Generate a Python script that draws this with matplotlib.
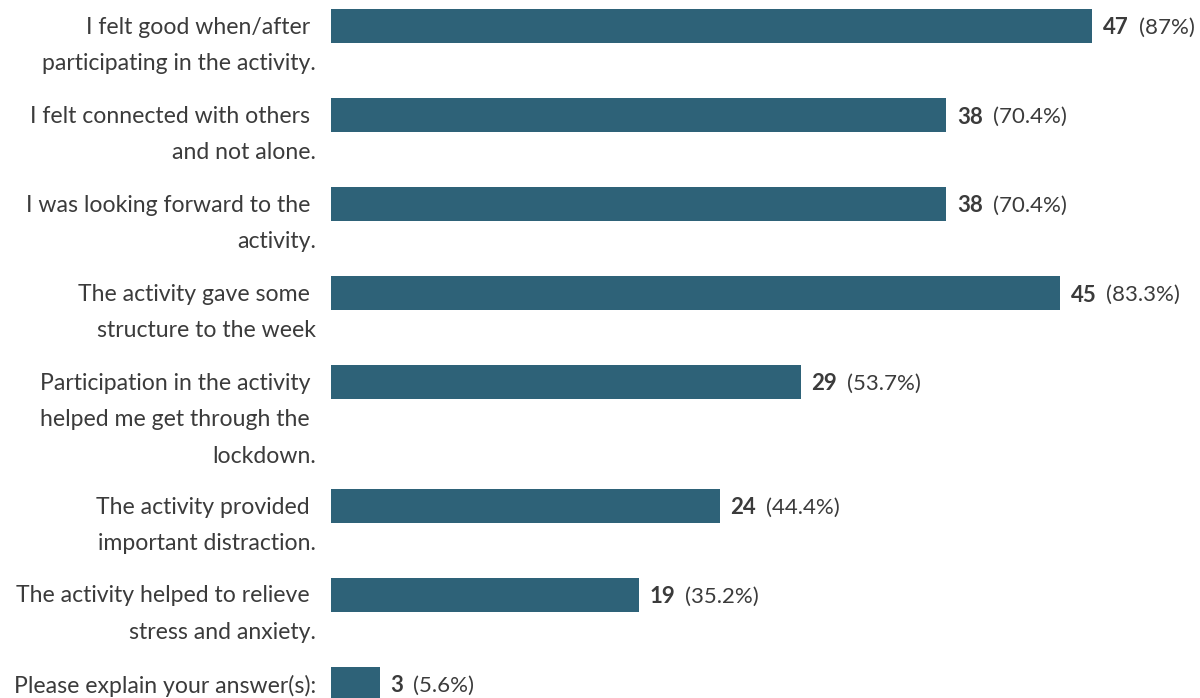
import matplotlib
matplotlib.use("Agg")
import matplotlib.pyplot as plt

# data
labels = [
    "I felt good when/after \nparticipating in the activity.",
    "I felt connected with others \nand not alone.",
    "I was looking forward to the \nactivity.",
    "The activity gave some \nstructure to the week",
    "Participation in the activity \nhelped me get through the \nlockdown.",
    "The activity provided \nimportant distraction.",
    "The activity helped to relieve \nstress and anxiety.",
    "Please explain your answer(s):",
]
counts = [47, 38, 38, 45, 29, 24, 19, 3]
percents = ["87%", "70.4%", "70.4%", "83.3%", "53.7%", "44.4%", "35.2%", "5.6%"]

BAR_COLOR = "#2e6278"
TEXT_COLOR = "#3b3b3b"
FONT = ["Lato", "DejaVu Sans"]
FS_LABEL = 16.6
FS_VALUE = 16

W, H = 1200, 698
fig = plt.figure(figsize=(W / 100, H / 100), dpi=100)
left_px = 331
ax = fig.add_axes([left_px / W, 0, 1 - left_px / W, 1])
ax.set_xlim(0, (W - left_px) / 16.19)
ax.set_ylim(H, 0)  # y in pixels, top-down
ax.axis("off")

# row layout: each row is as tall as its label (min two lines)
bar_h = 34
line_px = 34.5
gap = 20
y = 9
centers = []
for lab in labels:
    n = max(lab.count("\n") + 1, 2)
    centers.append(y + bar_h / 2)
    y += gap + line_px * n

ax.barh(centers, counts, height=bar_h, color=BAR_COLOR, left=0)

for yc, lab, c, p in zip(centers, labels, counts, percents):
    # first line of the label sits level with the bar
    ax.annotate(lab, xy=(0, yc), xytext=(-15, 9), textcoords="offset pixels",
                ha="right", va="top", fontsize=FS_LABEL, family=FONT,
                color=TEXT_COLOR, linespacing=1.9, annotation_clip=False)
    num = ax.annotate(str(c), xy=(c, yc), xytext=(11, 0), textcoords="offset pixels",
                      ha="left", va="center_baseline", fontsize=FS_VALUE, family=FONT,
                      fontweight="bold", color=TEXT_COLOR, annotation_clip=False)
    ax.annotate(f"({p})", xy=(1, 0.5), xycoords=num, xytext=(10, 0),
                textcoords="offset pixels", ha="left", va="center",
                fontsize=FS_VALUE, family=FONT, color=TEXT_COLOR, annotation_clip=False)

fig.savefig("out.png", dpi=100)
